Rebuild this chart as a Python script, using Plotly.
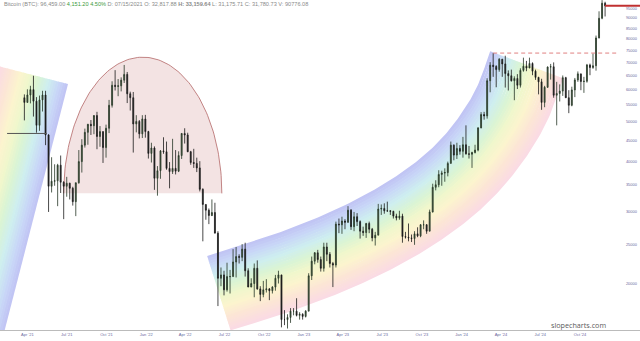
import numpy as np
import pandas as pd
import plotly.graph_objects as go

# ---------------- data (weekly BTC candles, thousands of USD) ----------------
week_start = "2021-03-22"
first_open = 57.3
close = [55.8, 58.2, 60.0, 56.2, 49.0, 56.6, 58.2, 46.4, 34.7, 35.7, 35.8, 39.1, 35.5, 34.7, 35.3, 34.3, 31.8, 35.4, 39.9, 43.8,
         47.1, 49.3, 48.9, 51.8, 46.0, 47.3, 43.2, 48.2, 54.9, 61.5, 61.1, 61.3, 63.3, 65.4, 58.6, 57.3, 49.4, 50.1, 46.7, 50.8, 47.3,
         41.8, 43.1, 36.3, 37.9, 42.4, 42.2, 38.4, 37.7, 38.4, 37.8, 41.3, 46.8, 46.4, 42.2, 39.7, 39.5, 38.5, 34.1, 31.3, 30.3,
         29.4, 29.9, 26.6, 20.6, 21.0, 19.3, 20.8, 20.8, 22.6, 23.3, 23.2, 24.3, 21.5, 19.6, 20.0, 21.8, 19.4, 18.8, 19.3, 19.4,
         19.2, 19.6, 20.6, 21.0, 16.3, 16.3, 16.5, 17.1, 17.1, 16.7, 16.8, 16.6,
         17.1, 20.9, 22.7, 23.8, 22.9, 21.8, 24.6, 23.6, 22.4, 22.2, 28.0, 27.9, 28.5, 28.3, 30.3, 27.6, 29.2, 28.4, 26.9, 26.7,
         28.1, 27.2, 25.9, 26.3, 30.5, 30.6, 30.2, 30.2, 30.1, 29.3, 29.0, 29.3, 26.1, 26.0, 25.9, 25.8, 26.5, 26.2, 27.9, 27.9,
         26.9, 30.0, 34.5, 35.0, 37.1, 37.4, 37.5, 39.5, 43.8, 41.4, 43.0, 42.3,
         43.9, 41.7, 41.6, 42.0, 42.6, 48.3, 52.1, 51.7, 63.1, 68.9, 68.4, 67.2, 71.3, 69.4, 65.7, 64.9, 63.1, 63.9, 61.5, 66.9,
         68.5, 67.8, 69.6, 66.6, 64.3, 62.7, 55.8, 60.8, 68.2, 68.3, 58.1, 58.7, 59.5, 64.2, 57.3, 54.9, 59.9, 63.4, 65.6, 62.8,
         62.9, 69.0, 68.0, 68.7, 80.4, 89.9, 97.9, 96.459]
high = [58.4, 60.1, 61.3, 64.9, 57.5, 58.0, 59.6, 59.6, 46.6, 40.9, 39.3, 39.4, 41.3, 35.7, 36.6, 35.4, 34.6, 35.4, 42.6, 45.3,
        48.1, 49.4, 50.5, 51.9, 52.9, 48.8, 47.3, 49.2, 56.6, 62.9, 67.0, 63.7, 64.3, 69.0, 66.3, 59.3, 59.2, 51.9, 50.5, 51.9, 52.0,
        47.5, 44.4, 43.5, 38.9, 42.6, 45.8, 44.7, 39.8, 45.4, 42.6, 42.3, 46.9, 48.2, 47.0, 42.4, 42.9, 40.8, 40.0, 34.3, 31.3,
        30.6, 32.2, 31.6, 26.9, 21.9, 21.5, 22.5, 21.6, 24.3, 24.6, 23.6, 25.0, 25.2, 21.8, 20.6, 22.4, 22.8, 19.7, 20.3, 20.5,
        19.5, 19.7, 21.0, 21.5, 21.0, 17.2, 16.8, 17.4, 17.4, 18.4, 17.0, 16.9,
        17.2, 21.2, 23.3, 23.9, 24.2, 23.3, 25.2, 25.2, 23.9, 22.6, 28.4, 28.9, 29.2, 28.8, 31.0, 30.5, 30.0, 29.8, 28.6, 27.6,
        28.2, 28.4, 27.4, 26.8, 31.4, 31.3, 31.5, 31.8, 30.3, 30.2, 29.7, 30.2, 29.7, 26.8, 28.1, 26.4, 26.9, 27.5, 28.0, 28.6,
        28.0, 30.4, 35.2, 35.9, 38.0, 37.9, 38.4, 39.9, 44.7, 44.0, 44.4, 43.8,
        45.9, 49.0, 43.6, 42.2, 43.9, 48.5, 52.8, 52.9, 64.0, 70.1, 73.8, 68.9, 71.7, 71.3, 72.7, 66.9, 67.2, 64.7, 65.5, 67.7,
        71.9, 70.6, 71.9, 70.0, 67.2, 64.5, 63.8, 61.3, 68.4, 69.4, 70.0, 62.7, 61.8, 65.0, 64.5, 59.8, 61.0, 64.1, 66.5, 65.6,
        64.5, 69.4, 69.5, 73.6, 81.5, 93.5, 99.6, 98.7]
low = [50.4, 55.8, 55.5, 51.5, 47.0, 47.5, 53.0, 43.8, 30.0, 33.5, 34.8, 31.0, 33.4, 28.8, 32.7, 32.2, 31.1, 29.3, 35.2, 37.5,
       43.2, 43.9, 46.4, 46.6, 42.8, 43.4, 39.6, 40.8, 46.9, 54.2, 59.7, 57.8, 59.4, 62.3, 55.6, 53.3, 42.0, 47.1, 45.5, 45.6, 45.7,
       40.6, 39.7, 34.0, 32.9, 36.2, 41.7, 38.1, 34.3, 37.2, 37.1, 37.6, 40.5, 44.2, 42.1, 39.2, 38.5, 37.6, 33.7, 25.4, 28.7,
       28.0, 29.3, 26.6, 17.6, 19.7, 18.7, 19.1, 18.9, 20.8, 20.7, 22.4, 22.7, 20.8, 19.6, 19.6, 18.5, 19.3, 18.1, 18.5, 19.0,
       18.2, 18.9, 19.2, 20.0, 15.6, 15.8, 15.5, 16.0, 16.7, 16.6, 16.3, 16.3,
       16.5, 17.1, 20.4, 22.3, 22.5, 21.4, 21.4, 22.7, 21.9, 19.6, 21.9, 26.6, 26.5, 27.2, 28.2, 27.1, 26.9, 27.7, 25.8, 26.2,
       25.9, 26.6, 25.4, 24.8, 26.3, 29.5, 29.7, 30.0, 29.5, 28.9, 28.6, 28.7, 25.2, 25.8, 25.4, 25.3, 24.9, 26.0, 26.0, 27.2,
       26.5, 26.9, 29.9, 33.9, 34.5, 34.8, 35.6, 36.7, 39.5, 40.2, 40.5, 41.5,
       40.8, 41.5, 40.6, 38.5, 41.8, 42.3, 48.2, 50.6, 50.9, 59.1, 64.5, 60.8, 66.4, 64.5, 60.7, 59.7, 62.8, 56.5, 60.2, 60.7,
       66.4, 66.6, 68.5, 65.1, 63.4, 58.4, 53.5, 54.3, 60.6, 63.5, 57.3, 49.0, 56.1, 57.9, 57.2, 52.5, 54.6, 57.5, 62.7, 59.8,
       58.9, 62.4, 65.1, 67.5, 66.8, 80.2, 89.4, 90.8]

y_ticks = list(range(20000, 100000, 5000))
x_tick_dates = ["2021-04-01", "2021-07-01", "2021-10-01", "2022-01-01", "2022-04-01", "2022-07-01", "2022-10-01",
                "2023-01-01", "2023-04-01", "2023-07-01", "2023-10-01", "2024-01-01", "2024-04-01", "2024-07-01",
                "2024-10-01"]
x_tick_text = ["Apr '21", "Jul '21", "Oct '21", "Jan '22", "Apr '22", "Jul '22", "Oct '22", "Jan '23", "Apr '23",
               "Jul '23", "Oct '23", "Jan '24", "Apr '24", "Jul '24", "Oct '24"]

# drawn objects (data coordinates)
arc_top_dates = ["2022-05-22", "2022-10-14", "2023-03-03", "2023-06-26", "2023-09-27", "2023-12-05", "2024-02-01", "2024-03-07"]
arc_top_prices = [23380, 26170, 29960, 34670, 40590, 48050, 59530, 74560]
left_band_dates = ["2021-07-04", "2021-02-02"]
left_band_prices = [61920, 14575]
dome_dates = ["2021-06-24", "2022-06-25"]
dome_base, dome_top = 33330, 72100
hline_dates = ["2021-02-13", "2021-05-16"]
hline_price = 46800
ath_price, ath_dates = 73800, ["2024-03-14", "2024-12-25"]
last_price = 96459

# ---------------- axes geometry ----------------
X0 = pd.Timestamp("2021-01-27 14:00")
X1 = pd.Timestamp("2025-02-16 19:00")
Y1 = 4.99864
Y0 = 4.18663
W, H = 640, 330

def to_px(dates, prices):
    d = pd.to_datetime(pd.Series(dates))
    x = ((d - X0) / (X1 - X0)).to_numpy(dtype=float) * W
    y = (Y1 - np.log10(np.asarray(prices, dtype=float))) / (Y1 - Y0) * H
    return x, y

def from_px(x, y):
    d = X0 + pd.to_timedelta(np.asarray(x) / W * (X1 - X0).total_seconds(), unit="s")
    p = 10 ** (Y1 - np.asarray(y) / H * (Y1 - Y0))
    return list(d), list(p)

def catmull(pts, n=24):
    P = np.vstack([pts[0], pts, pts[-1]])
    out = []
    for i in range(1, len(P) - 2):
        p0, p1, p2, p3 = P[i - 1], P[i], P[i + 1], P[i + 2]
        for t in np.linspace(0, 1, n, endpoint=False):
            out.append(0.5 * (2 * p1 + (-p0 + p2) * t + (2 * p0 - 5 * p1 + 4 * p2 - p3) * t * t
                              + (-p0 + 3 * p1 - 3 * p2 + p3) * t ** 3))
    out.append(P[-2])
    return np.array(out)

stops = [(0.00, (192, 194, 243)), (0.12, (200, 214, 247)), (0.27, (206, 238, 240)), (0.42, (218, 244, 212)),
         (0.55, (240, 247, 204)), (0.68, (252, 244, 206)), (0.83, (252, 229, 214)), (1.00, (250, 218, 230))]

def col(f):
    for (a, ca), (b, cb) in zip(stops[:-1], stops[1:]):
        if a <= f <= b:
            u = (f - a) / (b - a)
            c = [round(ca[k] + (cb[k] - ca[k]) * u) for k in range(3)]
            return "rgb(%d,%d,%d)" % tuple(c)
    return "rgb(%d,%d,%d)" % stops[-1][1]

def band_traces(dates, prices, thick, nstripe=30, extend=0):
    x, y = to_px(dates, prices)
    pts = np.column_stack([x, y])
    if extend:
        d = pts[-1] - pts[0]
        pts = np.vstack([pts[0], pts[-1] + d / np.linalg.norm(d) * extend])
    c = catmull(pts) if len(pts) > 2 else np.array([pts[0] + (pts[1] - pts[0]) * t for t in np.linspace(0, 1, 40)])
    tg = np.gradient(c, axis=0)
    tg = tg / np.linalg.norm(tg, axis=1)[:, None]
    nrm = np.column_stack([-tg[:, 1], tg[:, 0]])
    trs = []
    for i in range(nstripe):
        a = thick * i / nstripe
        b = min(thick, thick * (i + 1) / nstripe + 0.6)
        e1 = c + nrm * a
        e2 = (c + nrm * b)[::-1]
        poly = np.vstack([e1, e2, e1[:1]])
        dd, pp = from_px(poly[:, 0], poly[:, 1])
        trs.append(go.Scatter(x=dd, y=pp, mode="lines", fill="toself", line=dict(width=0),
                              fillcolor=col((i + 0.5) / nstripe), hoverinfo="skip", showlegend=False))
    return trs

fig = go.Figure()
for tr in band_traces(left_band_dates, left_band_prices, 72, extend=60):
    fig.add_trace(tr)
for tr in band_traces(arc_top_dates, arc_top_prices, 78):
    fig.add_trace(tr)

# dome (half ellipse)
d0, d1 = pd.Timestamp(dome_dates[0]), pd.Timestamp(dome_dates[1])
tt = np.linspace(0, np.pi, 120)
cx = d0 + (d1 - d0) / 2
dome_x = [cx + (d1 - d0) / 2 * np.cos(t) for t in tt] + [d0]
lb, lt = np.log10(dome_base), np.log10(dome_top)
dome_y = list(10 ** (lb + (lt - lb) * np.sin(tt))) + [dome_base]
fig.add_trace(go.Scatter(x=dome_x, y=dome_y, mode="lines", fill="toself", fillcolor="rgba(210,145,145,0.26)",
                         line=dict(color="rgba(175,95,95,0.75)", width=1), hoverinfo="skip", showlegend=False))

# candles on an overlaid axis pair so they sit above the fills
dates = pd.date_range(week_start, periods=len(close), freq="7D") + pd.Timedelta(days=3)
c_arr = np.array(close) * 1000
o_arr = np.concatenate([[first_open * 1000], c_arr[:-1]])
fig.add_trace(go.Candlestick(x=dates, open=o_arr, high=np.array(high) * 1000, low=np.array(low) * 1000, close=c_arr,
                             increasing=dict(line=dict(color="#263626", width=0.8), fillcolor="#44593f"),
                             decreasing=dict(line=dict(color="#1a1a1a", width=0.8), fillcolor="#1a1a1a"),
                             whiskerwidth=0, showlegend=False, hoverinfo="skip", xaxis="x2", yaxis="y2"))

fig.add_trace(go.Scatter(x=hline_dates, y=[hline_price] * 2, mode="lines", line=dict(color="#555", width=1),
                         hoverinfo="skip", showlegend=False, xaxis="x2", yaxis="y2"))
fig.add_trace(go.Scatter(x=ath_dates, y=[ath_price] * 2, mode="lines", line=dict(color="#e08080", width=1, dash="4px,3px"),
                         hoverinfo="skip", showlegend=False, xaxis="x2", yaxis="y2"))
fig.add_trace(go.Scatter(x=[dates[-1], X1], y=[last_price] * 2, mode="lines", line=dict(color="#c03030", width=2),
                         hoverinfo="skip", showlegend=False, xaxis="x2", yaxis="y2"))

header = ("Bitcoin (BTC): 96,459.00 <span style='color:#3c9a3c'>4,151.20 4.50%</span> D: 07/15/2021 "
          "O: 32,817.88 <b>H: 33,159.64</b> L: 31,175.71 C: 31,780.73 V: 90776.08")
fig.add_annotation(x=0.003, y=1 - 4 / H, xref="paper", yref="paper", xanchor="left", yanchor="middle",
                   text=header, showarrow=False, font=dict(size=5.6, color="#8a8a8a", family="Liberation Sans"))
fig.add_annotation(x=608 / W, y=1 - 325 / H, xref="paper", yref="paper", xanchor="right", yanchor="middle",
                   text="slopecharts.com", showarrow=False, font=dict(size=7.2, color="#5a5a5a", family="Open Sans"))

fig.update_layout(
    width=640, height=341, margin=dict(l=0, r=0, t=0, b=11),
    paper_bgcolor="white", plot_bgcolor="white", boxgap=0.55,
    xaxis=dict(range=[X0, X1], rangeslider=dict(visible=False), showgrid=False, zeroline=False,
               showline=True, linecolor="#bbbbbb", linewidth=1, ticks="",
               tickvals=x_tick_dates, ticktext=x_tick_text,
               tickfont=dict(size=4, color="#6a6aa0", family="Liberation Sans")),
    yaxis=dict(type="log", range=[Y0, Y1], side="right", ticklabelposition="inside", showgrid=False,
               zeroline=False, showline=False, ticks="", tickvals=y_ticks, ticktext=[str(v) for v in y_ticks],
               tickfont=dict(size=4, color="#6a6aa0", family="Liberation Sans")),
    xaxis2=dict(range=[X0, X1], overlaying="x", visible=False, rangeslider=dict(visible=False)),
    yaxis2=dict(type="log", range=[Y0, Y1], overlaying="y", visible=False),
)
fig.write_html("out.html")
